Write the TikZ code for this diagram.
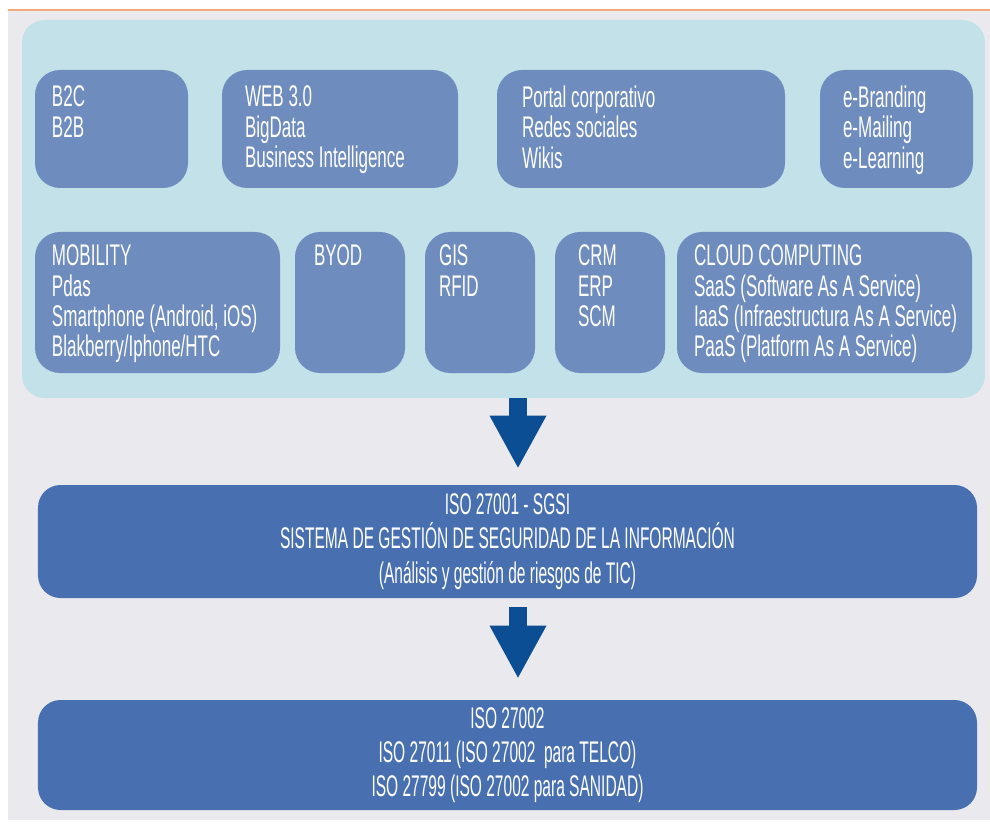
\documentclass[tikz,border=0pt]{standalone}
\usepackage{fontspec}
\setmainfont{Liberation Sans}[FakeStretch=0.57]
\newfontfamily\bandfamily{Liberation Sans}[FakeStretch=0.52]
\usetikzlibrary{positioning, calc, arrows.meta}

\definecolor{pagegray}{HTML}{EAEAEE}
\definecolor{edgeorange}{HTML}{F6A77E}
\definecolor{panelcyan}{HTML}{C3E1E8}
\definecolor{tileblue}{HTML}{6E8CBE}
\definecolor{bandblue}{HTML}{4870B0}
\definecolor{arrowblue}{HTML}{0C4E93}

\newcommand{\tilefont}{\fontsize{17}{17.2}\selectfont}
\newcommand{\bandfont}{\bandfamily\fontsize{17}{19.5}\selectfont}

\begin{document}
\begin{tikzpicture}[
    tile/.style={fill=tileblue, rounded corners=0.5cm, minimum height=2.36cm, inner sep=0},
    tiletall/.style={tile, minimum height=2.82cm},
    tiletext/.style={anchor=north west, inner sep=0, align=left, text=white, font=\tilefont},
    band/.style={fill=bandblue, rounded corners=0.45cm, minimum width=18.78cm, inner sep=0, text=white, align=center, font=\bandfont},
    bigarrow/.style={draw=arrowblue, line width=0.36cm, -{Triangle[length=1.04cm, width=1.14cm, line width=0pt]}}
]
    \useasboundingbox (0,0) rectangle (19.8,16.5);

    % Page background and top rule
    \fill[pagegray] (0.16,0.1) rectangle (19.8,16.3);
    \draw[edgeorange, line width=1pt] (0.16,16.3) -- (19.8,16.3);

    % Technology panel
    \node[fill=panelcyan, rounded corners=0.45cm, minimum width=19.26cm, minimum height=7.56cm] (panel) at (10.07,12.32) {};

    % First row of tiles
    \node[tile, minimum width=3.06cm] (b2c) at (2.23,13.92) {};
    \node[tile, minimum width=4.72cm] (web) at (6.80,13.92) {};
    \node[tile, minimum width=5.76cm] (portal) at (12.82,13.92) {};
    \node[tile, minimum width=3.06cm] (ebrand) at (17.93,13.92) {};

    \node[tiletext] (b2c-txt) at ([shift={(0.34,-0.32)}]b2c.north west) {B2C\\B2B};
    \node[tiletext] (web-txt) at ([shift={(0.46,-0.32)}]web.north west) {WEB 3.0\\BigData\\Business Intelligence};
    \node[tiletext] (portal-txt) at ([shift={(0.5,-0.32)}]portal.north west) {Portal corporativo\\Redes sociales\\Wikis};
    \node[tiletext] (ebrand-txt) at ([shift={(0.46,-0.32)}]ebrand.north west) {e-Branding\\e-Mailing\\e-Learning};

    % Second row of tiles
    \node[tiletall, minimum width=4.90cm] (mobility) at (3.15,10.45) {};
    \node[tiletall, minimum width=2.20cm] (byod) at (7.00,10.45) {};
    \node[tiletall, minimum width=2.20cm] (gis) at (9.60,10.45) {};
    \node[tiletall, minimum width=2.20cm] (crm) at (12.20,10.45) {};
    \node[tiletall, minimum width=5.90cm] (cloud) at (16.49,10.45) {};

    \node[tiletext] (mobility-txt) at ([shift={(0.34,-0.26)}]mobility.north west) {MOBILITY\\Pdas\\Smartphone (Android, iOS)\\Blakberry/Iphone/HTC};
    \node[tiletext] (byod-txt) at ([shift={(0.38,-0.26)}]byod.north west) {BYOD};
    \node[tiletext] (gis-txt) at ([shift={(0.28,-0.26)}]gis.north west) {GIS\\RFID};
    \node[tiletext] (crm-txt) at ([shift={(0.46,-0.26)}]crm.north west) {CRM\\ERP\\SCM};
    \node[tiletext] (cloud-txt) at ([shift={(0.34,-0.26)}]cloud.north west) {CLOUD COMPUTING\\SaaS (Software As A Service)\\IaaS (Infraestructura As A Service)\\PaaS (Platform As A Service)};

    % Standards bands
    \node[band, minimum height=2.26cm] (sgsi) at (10.15,5.67) {ISO 27001 - SGSI\\SISTEMA DE GESTIÓN DE SEGURIDAD DE LA INFORMACIÓN\\(Análisis y gestión de riesgos de TIC)};
    \node[band, minimum height=2.20cm] (isofam) at (10.15,1.40) {ISO 27002\\ISO 27011 (ISO 27002 \ para TELCO)\\ISO 27799 (ISO 27002 para SANIDAD)};

    % Flow arrows
    \draw[bigarrow, shorten >=0.34cm] ([xshift=0.21cm]panel.south -| sgsi.north) -- ([xshift=0.21cm]sgsi.north);
    \draw[bigarrow, shorten <=0.18cm, shorten >=0.44cm] ([xshift=0.21cm]sgsi.south) -- ([xshift=0.21cm]isofam.north);
\end{tikzpicture}
\end{document}
